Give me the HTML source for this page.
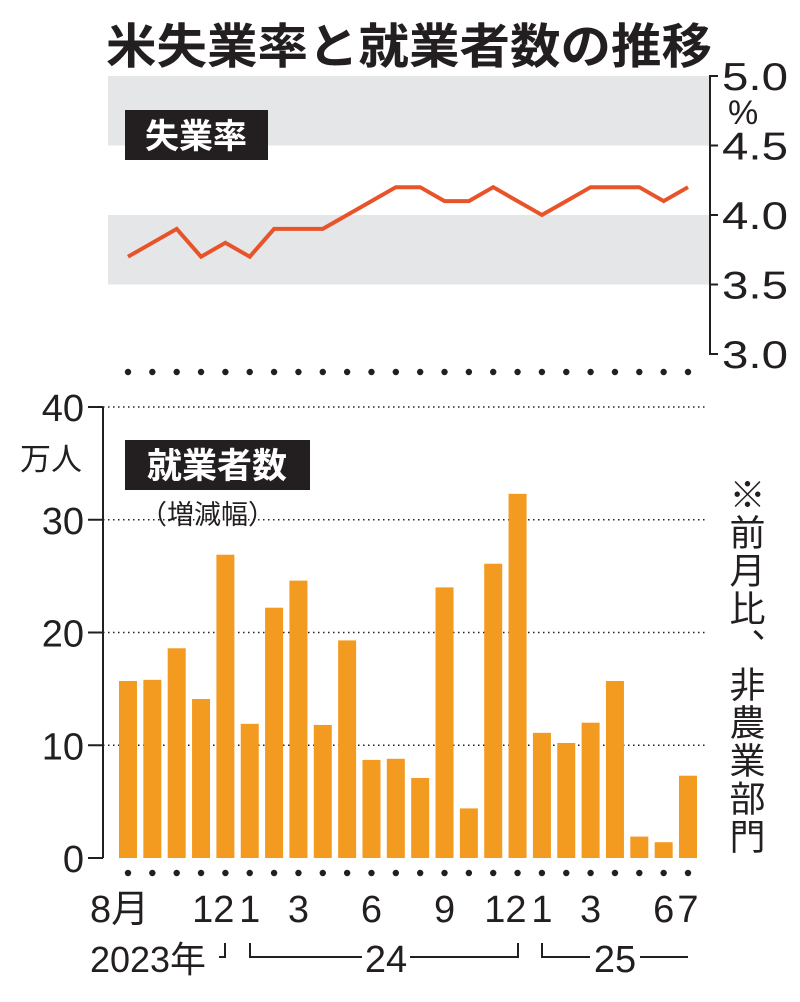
<!DOCTYPE html>
<html><head><meta charset="utf-8">
<style>
html,body{margin:0;padding:0;background:#fff;}
svg text{font-family:"Liberation Sans Narrow","Liberation Sans","Noto Sans CJK JP",sans-serif;fill:#231f20;}
.jp{font-family:"Liberation Sans","Noto Sans CJK JP",sans-serif;}
</style></head>
<body>
<svg id="chart" width="800" height="997" viewBox="0 0 800 997" xmlns="http://www.w3.org/2000/svg">
<text class="jp" x="106" y="63" font-size="48" font-weight="bold" textLength="606" lengthAdjust="spacingAndGlyphs">米失業率と就業者数の推移</text>
<g id="topG"></g>
<g id="botG"></g>
<g id="xaxG"></g>
</svg>
<script>
const months=["8月","","","","12","1","","3","","","6","","","9","","","12","1","","3","","","6","7"];
const rate=[3.7,3.8,3.9,3.7,3.8,3.7,3.9,3.9,3.9,4.0,4.1,4.2,4.2,4.1,4.1,4.2,4.1,4.0,4.1,4.2,4.2,4.2,4.1,4.2];
const jobs=[15.7,15.8,18.6,14.1,26.9,11.9,22.2,24.6,11.8,19.3,8.7,8.8,7.1,24.0,4.4,26.1,32.3,11.1,10.2,12.0,15.7,1.9,1.4,7.3];
const rateTicks=["3.0","3.5","4.0","4.5","5.0"];
const jobTicks=["0","10","20","30","40"];
const NS="http://www.w3.org/2000/svg";
function mk(p,tag,attrs,txt){const e=document.createElementNS(NS,tag);for(const k in attrs)e.setAttribute(k,attrs[k]);if(txt!==undefined)e.textContent=txt;p.appendChild(e);return e;}
const xOf=i=>128+i*(688-128)/23;
const yR=v=>354-(v-3.0)*(354-76)/2.0;
const yJ=v=>858-v*(858-407)/40;
const tg=document.getElementById('topG'),bg=document.getElementById('botG'),xg=document.getElementById('xaxG');
[[4.5,5.0],[3.5,4.0]].forEach((b,k)=>{const r=mk(tg,'rect',{x:108,y:yR(b[1]),width:602,height:yR(b[0])-yR(b[1]),fill:'#e5e6e8'});

});
let ax=mk(tg,'path',{d:`M718 ${yR(5)} H710 V${yR(3)} H718`,stroke:'#231f20','stroke-width':2,fill:'none'});


rateTicks.forEach(t=>{const v=parseFloat(t);const y=yR(v);
mk(tg,'line',{x1:710,x2:718,y1:y,y2:y,stroke:'#231f20','stroke-width':2});
const tx=mk(tg,'text',{x:722,y:y+14,'font-size':39,textLength:66,lengthAdjust:'spacingAndGlyphs'},t);

});
const pct=mk(tg,'text',{x:728,y:124,'font-size':34},'%');


const lb=mk(tg,'rect',{x:125,y:110,width:143,height:50,fill:'#231f20'});


const lt=mk(tg,'text',{x:196,y:148,'font-size':34,'font-weight':'bold','text-anchor':'middle',class:'jp',style:'fill:#fff'},'失業率');


const line=mk(tg,'polyline',{points:rate.map((v,i)=>xOf(i)+','+yR(v)).join(' '),fill:'none',stroke:'#e8542a','stroke-width':4,'stroke-linejoin':'miter'});


[372,873].forEach(y=>{for(let i=0;i<24;i++){const d=mk(xg,'circle',{cx:xOf(i),cy:y,r:3.2,fill:'#231f20'});

}});
jobTicks.forEach(t=>{const v=+t;const y=yJ(v);
if(v>0){const g=mk(bg,'line',{x1:103,x2:708,y1:y,y2:y,stroke:'#231f20','stroke-width':1.5,'stroke-dasharray':'1.5 3.5'});

}
mk(bg,'line',{x1:88,x2:103,y1:y,y2:y,stroke:'#231f20','stroke-width':2});
const tx=mk(bg,'text',{x:84,y:y+14,'font-size':38,'text-anchor':'end'},t);

});
mk(bg,'line',{x1:103,x2:103,y1:yJ(40),y2:yJ(0),stroke:'#231f20','stroke-width':2});
const unit=mk(bg,'text',{x:20,y:470,'font-size':31,class:'jp'},'万人');


jobs.forEach((v,i)=>{const b=mk(bg,'rect',{x:xOf(i)-9,y:yJ(v),width:18,height:yJ(0)-yJ(v),fill:'#f39a21'});

});
const jb=mk(bg,'rect',{x:125,y:440,width:185,height:50,fill:'#231f20'});


const jt=mk(bg,'text',{x:217,y:478,'font-size':35,'font-weight':'bold','text-anchor':'middle',class:'jp',style:'fill:#fff'},'就業者数');


const sub=mk(bg,'text',{x:140,y:524,'font-size':27,class:'jp'},'（増減幅）');


const note=mk(bg,'text',{x:745,y:476,'font-size':36,class:'jp',style:'writing-mode:vertical-rl;letter-spacing:2px'},'※前月比、非農業部門');


months.forEach((m,i)=>{if(!m)return;let x=xOf(i);let anchor='middle';
if(m==='12'){anchor='end';x=xOf(i)+9;}
if(m==='8月'){x=xOf(i)-38;anchor='start';}
const t=mk(xg,'text',{x:x,y:922,'font-size':38,'text-anchor':anchor},m);

});
const y1=mk(xg,'text',{x:90,y:972,'font-size':36,class:'jp',textLength:116,lengthAdjust:'spacingAndGlyphs'},'2023年');


mk(xg,'path',{d:'M219 957 H225 V943',stroke:'#231f20','stroke-width':2,fill:'none'});
mk(xg,'path',{d:`M250 943 V957 H362 M410 957 H518 V943`,stroke:'#231f20','stroke-width':2,fill:'none'});
const y2=mk(xg,'text',{x:386,y:972,'font-size':38,'text-anchor':'middle'},'24');


mk(xg,'path',{d:`M542 943 V957 H590 M640 957 H688`,stroke:'#231f20','stroke-width':2,fill:'none'});
const y3=mk(xg,'text',{x:615,y:972,'font-size':38,'text-anchor':'middle'},'25');


</script>
</body></html>
